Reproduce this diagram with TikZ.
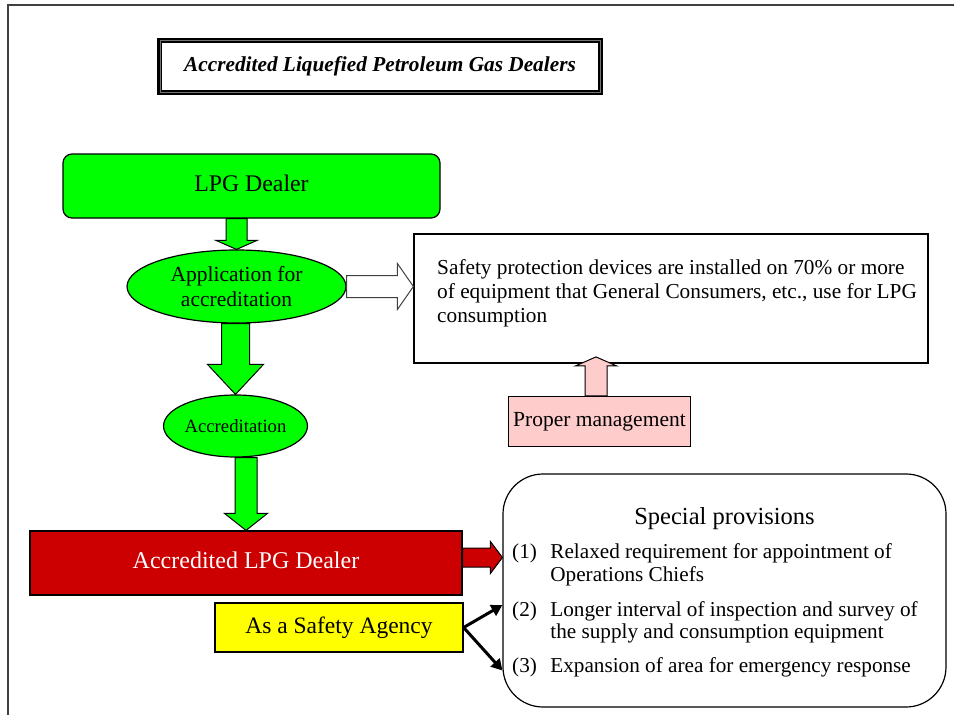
\documentclass[tikz,border=0pt]{standalone}
\usepackage{fontspec}
\setmainfont{Liberation Serif}
\usetikzlibrary{calc,shapes.geometric,arrows.meta}
\definecolor{lgreen}{RGB}{0,255,0}
\definecolor{dred}{RGB}{204,0,0}
\definecolor{pinkf}{RGB}{255,204,204}
\definecolor{yell}{RGB}{255,255,0}
\newcommand\fsz[2]{\fontsize{#1}{#2}\selectfont}
% vertical block arrow: style, from, to, shaft half, head half, head length (signed)
\newcommand\vblock[6]{\path[#1] let \p1=(#2), \p2=(#3) in
  (\x2-#4,\y1) -- (\x2-#4,\y2+#6) -- (\x2-#5,\y2+#6) -- (\x2,\y2) --
  (\x2+#5,\y2+#6) -- (\x2+#4,\y2+#6) -- (\x2+#4,\y1) -- cycle;}
% horizontal block arrow (pointing right)
\newcommand\hblock[6]{\path[#1] let \p1=(#2), \p2=(#3) in
  (\x1,\y1+#4) -- (\x2-#6,\y1+#4) -- (\x2-#6,\y1+#5) -- (\x2,\y1) --
  (\x2-#6,\y1-#5) -- (\x2-#6,\y1-#4) -- (\x1,\y1-#4) -- cycle;}
\begin{document}
\begin{tikzpicture}[x=1pt,y=-1pt,
  box/.style={draw=black,line width=1.2pt,inner sep=0pt},
  oval/.style={ellipse,draw=black,line width=1.2pt,inner sep=0pt,fill=lgreen,align=center},
  blk/.style={draw=black,line width=1pt},
  barrow/.style={line width=3pt,-{Triangle[length=11pt,width=12pt]}}]
\useasboundingbox (0,0) rectangle (954,715);
\draw[line width=2pt,black!75] (954,5) -- (8,5) -- (8,715);

% title
\node[draw=black,line width=5pt,minimum width=441,minimum height=52,inner sep=0pt,
      font=\fsz{21.3}{24}\bfseries\itshape] (title) at (380,66.5)
      {Accredited Liquefied Petroleum Gas Dealers};
\draw[black!55,line width=1pt] (160,40.5) rectangle (600.5,92.5);

% nodes
\node[box,fill=lgreen,rounded corners=9pt,minimum width=377,minimum height=64,
      font=\fsz{23.8}{27}] (dealer) at (251.5,186) {\raisebox{5pt}{LPG Dealer}};
\node[oval,minimum width=219,minimum height=73,font=\fsz{21.5}{25}] (app) at (236.5,286.5)
      {Application for\\accreditation};
\node[oval,minimum width=121,minimum height=62,font=\fsz{18.7}{21}] (acc) at (235.5,426)
      {Accreditation};
\node[box,fill=dred,text=white,minimum width=432,minimum height=64,font=\fsz{24}{27}]
      (red) at (246,563) {\raisebox{5pt}{Accredited LPG Dealer}};
\node[box,fill=yell,minimum width=248,minimum height=49,font=\fsz{23.5}{26}]
      (yellow) at (339,627.5) {As a Safety Agency};
\node[box,fill=white,minimum width=514,minimum height=129] (safety) at (671,298.5) {};
\node[anchor=base west,align=left,inner sep=0pt,font=\fsz{21.3}{24}] (safetytext) at (437,322)
      {Safety protection devices are installed on 70\% or more\\
       of equipment that General Consumers, etc., use for LPG\\
       consumption};
\node[box,fill=pinkf,minimum width=182,minimum height=50,font=\fsz{21.5}{24}]
      (pink) at (599.5,421.5) {Proper management};
\node[box,fill=white,rounded corners=40pt,minimum width=443,minimum height=233]
      (special) at (724.5,590.5) {};
\node[anchor=base,inner sep=0pt,font=\fsz{24.5}{27}] (heading) at (724.5,524) {Special provisions};
\node[anchor=base west,inner sep=0pt,font=\fsz{21.2}{23}] (item1) at (512,558)
  {\begin{tabular}[t]{@{}l@{\hspace{13.5pt}}l@{}}(1)&Relaxed requirement for appointment of\\&Operations Chiefs\end{tabular}};
\node[anchor=base west,inner sep=0pt,font=\fsz{21.2}{22}] (item2) at (512,616)
  {\begin{tabular}[t]{@{}l@{\hspace{13.5pt}}l@{}}(2)&Longer interval of inspection and survey of\\&the supply and consumption equipment\end{tabular}};
\node[anchor=base west,inner sep=0pt,font=\fsz{21.2}{23}] (item3) at (512,672)
  {\begin{tabular}[t]{@{}l@{\hspace{13.5pt}}l@{}}(3)&Expansion of area for emergency response\end{tabular}};

% block arrows
\vblock{fill=lgreen,blk}{dealer.south}{app.north}{10.5pt}{20.5pt}{9pt}
\vblock{fill=lgreen,blk}{app.south}{acc.north}{14pt}{28pt}{30pt}
\vblock{fill=lgreen,blk}{acc.south}{red.north}{11pt}{21.5pt}{17pt}
\hblock{fill=white,draw=black!75,line width=1pt}{app.east}{safety.west}{11pt}{23pt}{16pt}
\coordinate (pinktip) at ($(pink.north)+(-3.5,-39)$);
\vblock{fill=pinkf,blk}{pink.north}{pinktip}{11pt}{20.5pt}{-9pt}
\coordinate (redA) at ($(red.east)+(0,-5.5)$);
\hblock{fill=dred,blk}{redA}{special.west |- redA}{9.5pt}{16pt}{12pt}

% black arrows
\coordinate (yA) at (yellow.east);
\coordinate (t2) at ($(special.west)+(0,14.5)$);
\coordinate (t3) at ($(special.west)+(0,80)$);
\draw[barrow] (yA) -- (t2);
\draw[barrow] (yA) -- (t3);
\end{tikzpicture}
\end{document}
